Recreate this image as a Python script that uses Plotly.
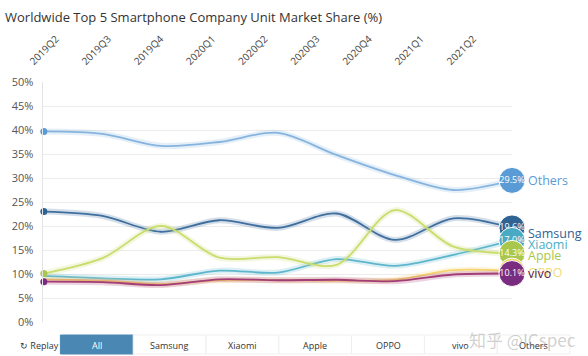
import plotly.graph_objects as go

quarters = ["2019Q2", "2019Q3", "2019Q4", "2020Q1", "2020Q2", "2020Q3", "2020Q4", "2021Q1", "2021Q2"]
companies = ["Others", "Samsung", "Xiaomi", "Apple", "OPPO", "vivo"]
others = [39.7, 39.2, 36.7, 37.5, 39.4, 34.8, 30.6, 27.5, 29.5]
samsung = [23.0, 22.1, 18.8, 21.2, 19.6, 22.6, 17.1, 21.6, 19.6]
xiaomi = [9.6, 9.1, 8.9, 10.7, 10.3, 13.1, 11.7, 14.0, 17.0]
apple = [10.1, 13.3, 20.0, 13.4, 13.5, 11.9, 23.3, 15.7, 14.3]
oppo = [8.9, 8.6, 7.9, 8.7, 8.7, 8.6, 8.8, 10.8, 10.6]
vivo = [8.4, 8.3, 7.7, 8.9, 8.7, 8.8, 8.5, 9.9, 10.1]
y_ticks = [0, 5, 10, 15, 20, 25, 30, 35, 40, 45, 50]
buttons = ["All", "Samsung", "Xiaomi", "Apple", "OPPO", "vivo", "Others"]

series = [others, samsung, xiaomi, apple, oppo, vivo]
line_colors = ["#86b4df", "#3f6f9f", "#5db6cc", "#c9dc6c", "#f6d36c", "#a23d78"]
bubble_colors = ["#5b9bd5", "#2f6393", "#4aaac4", "#a8c74c", "#f2cf5c", "#7a2d80"]
label_colors = ["#5b9bd5", "#2f6393", "#4aaec6", "#a8c74c", "#f3da78", "#5a2060"]
label_shift = [0, -6, -4, -2, -1, 0]
first_dot = [True, True, False, True, False, True]


def rgba(hexc, a):
    h = hexc.lstrip("#")
    return "rgba(%d,%d,%d,%.2f)" % (int(h[0:2], 16), int(h[2:4], 16), int(h[4:6], 16), a)


W, H = 588, 356
PL, PR, PT, PB = 15, 512, 82, 322   # plot (paper) area in pixels
AXL = 35                              # left edge of the data axis
PW, PH = PR - PL, PB - PT


def px(X):
    return (X - PL) / PW


def py(Y):
    return (PB - Y) / PH


xi = list(range(len(quarters)))

fig = go.Figure()

for name, vals, lc in zip(companies, series, line_colors):
    fig.add_trace(go.Scatter(x=xi, y=vals, mode="lines", line=dict(color=rgba(lc, 0.22), width=6, shape="spline", smoothing=0.9),
                             hoverinfo="skip", showlegend=False))
    fig.add_trace(go.Scatter(x=xi, y=vals, mode="lines", name=name, line=dict(color=lc, width=1.8, shape="spline", smoothing=0.9),
                             showlegend=False))

for vals, lc, show in zip(series, bubble_colors, first_dot):
    if show:
        fig.add_trace(go.Scatter(x=[xi[0]], y=[vals[0]], mode="markers", marker=dict(color=lc, size=7),
                                 hoverinfo="skip", showlegend=False, cliponaxis=False))

for name, vals, bc in zip(companies, series, bubble_colors):
    fig.add_trace(go.Scatter(x=[xi[-1]], y=[vals[-1]], mode="markers+text",
                             marker=dict(color=bc, size=26, line=dict(color="white", width=1)),
                             text=["%.1f%%" % vals[-1]], textposition="middle center",
                             textfont=dict(color="white", size=9, family="Open Sans"),
                             hoverinfo="skip", showlegend=False, cliponaxis=False))

for name, vals, c, s in zip(companies, series, label_colors, label_shift):
    fig.add_annotation(x=xi[-1], y=vals[-1], xref="x", yref="y", text=name, showarrow=False,
                       xanchor="left", yanchor="middle", xshift=14, yshift=s,
                       font=dict(color=c, size=12.5, family="Open Sans"))

# separate (transparent) subplot carrying the quarter labels on top
fig.add_trace(go.Scatter(x=quarters, y=[0] * len(quarters), xaxis="x2", yaxis="y2", mode="markers",
                         marker=dict(opacity=0), hoverinfo="skip", showlegend=False))

r0 = -(22.5 - PL) / 53.0
r1 = r0 + PW / 53.0

fig.update_layout(
    width=W, height=H,
    margin=dict(l=PL, r=W - PR, t=PT, b=H - PB, pad=0),
    paper_bgcolor="white", plot_bgcolor="rgba(0,0,0,0)",
    font=dict(family="Open Sans", color="#444"),
    title=dict(text="Worldwide Top 5 Smartphone Company Unit Market Share (%)", x=5 / W, xanchor="left",
               xref="container", y=1 - 17 / H, yref="container", yanchor="middle",
               font=dict(size=13, color="#333", family="Open Sans")),
    xaxis=dict(domain=[px(AXL), 1], range=[-0.02, 8], showgrid=False, zeroline=False, showticklabels=False, showline=False),
    yaxis=dict(range=[0, 50], tickvals=y_ticks, ticktext=["%d%%" % v for v in y_ticks], anchor="x",
               showgrid=True, gridcolor="#ececec", gridwidth=1, zeroline=False,
               showline=True, linecolor="#e4e4e4", linewidth=1, ticks="",
               tickfont=dict(size=11, color="#555", family="Open Sans"), ticklabelstandoff=6),
    xaxis2=dict(anchor="y2", side="top", type="category", categoryarray=quarters, range=[r0, r1],
                domain=[0, 1], tickangle=-45, showgrid=False, zeroline=False, showline=False, ticks="",
                tickfont=dict(size=10, color="#444", family="Open Sans"), ticklabelstandoff=12),
    yaxis2=dict(anchor="x2", domain=[0, 1], range=[1, 2], visible=False, showgrid=False, zeroline=False),
)

# bottom buttons
bx0, bw, by0, by1, bty = 53, 74, 335, 354, 345
fig.add_annotation(x=px(10), y=py(bty), xref="paper", yref="paper", text="↻ Replay", showarrow=False,
                   xanchor="left", yanchor="middle", font=dict(size=9, color="#333", family="Open Sans"))
for i, b in enumerate(buttons):
    x0 = bx0 + i * bw
    sel = i == 0
    fig.add_shape(type="rect", xref="paper", yref="paper",
                  x0=px(x0), x1=px(x0 + bw), y0=py(by1), y1=py(by0),
                  fillcolor="#4a87b2" if sel else "white",
                  line=dict(color="#4a87b2" if sel else "#efefef", width=1), layer="below")
    fig.add_annotation(x=px(x0 + bw / 2), y=py(bty), xref="paper", yref="paper",
                       text=b, showarrow=False, xanchor="center", yanchor="middle",
                       font=dict(size=9, color="white" if sel else "#333", family="Open Sans"))

fig.add_annotation(x=px(523), y=py(339), xref="paper", yref="paper",
                   text="知乎 @ICspec", showarrow=False, xanchor="center", yanchor="middle",
                   font=dict(size=17, color="rgba(150,150,150,0.45)", family="Noto Sans CJK SC"))

fig.write_html("out.html", config={"displayModeBar": False},
               post_script="document.body.style.margin='0';document.body.style.overflow='hidden';")
